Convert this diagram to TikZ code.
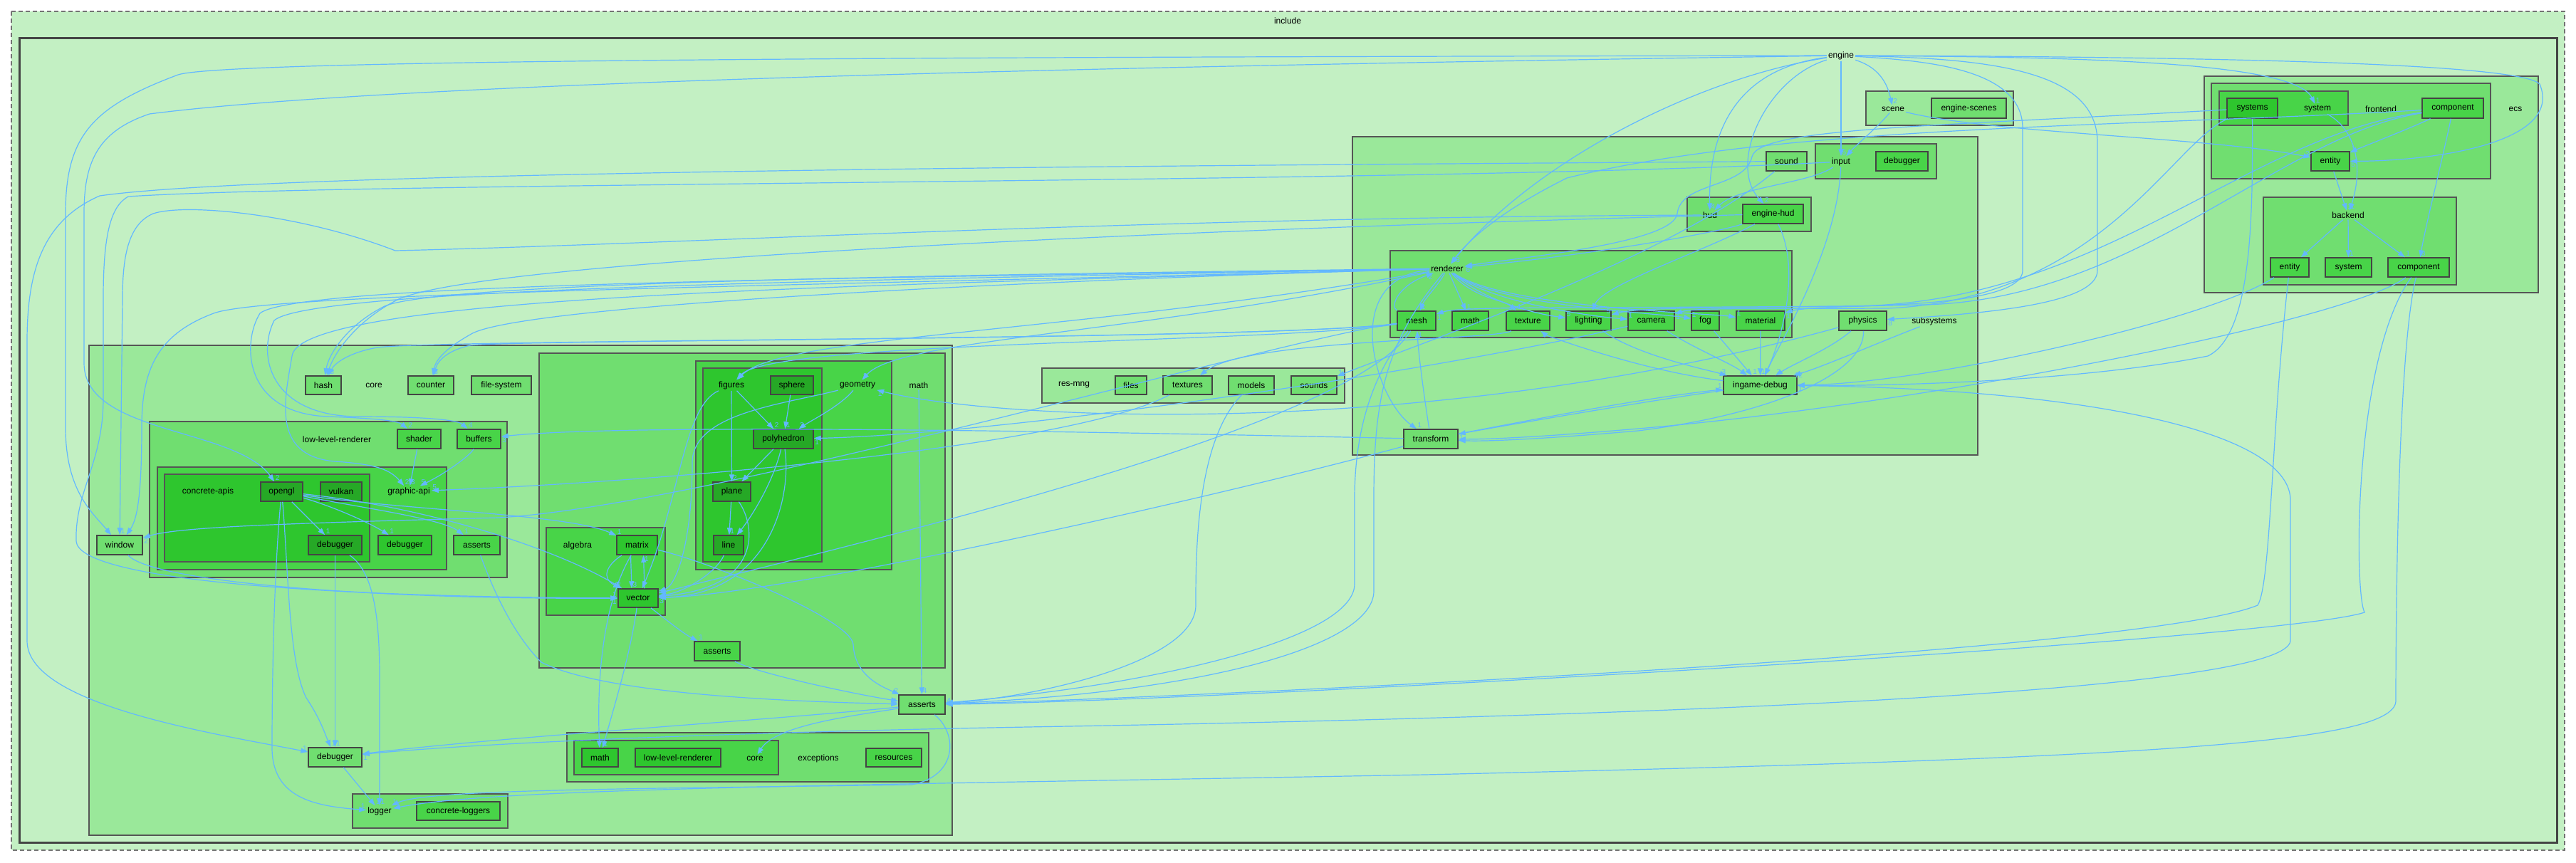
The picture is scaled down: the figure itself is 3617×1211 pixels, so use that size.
\documentclass[tikz,border=0pt]{standalone}
\usepackage{fontspec}
\setmainfont{Liberation Sans}
\usetikzlibrary{arrows.meta}
\definecolor{cA}{HTML}{C3F0C3}
\definecolor{cBB}{HTML}{9AE89A}
\definecolor{cC}{HTML}{70DE70}
\definecolor{cD}{HTML}{48D448}
\definecolor{cEE}{HTML}{2EC62E}
\definecolor{cF}{HTML}{26A826}
\definecolor{cLine}{HTML}{444444}
\definecolor{cClus}{HTML}{555555}
\definecolor{cEdge}{HTML}{63B8FF}
\newcommand\dxf{\fontsize{12pt}{14pt}\selectfont}
\newcommand\dxl{\fontsize{10pt}{12pt}\selectfont}
\newcommand\dbox[7]{\node[bx,fill=#2,minimum width={(#4-#3)*1pt},minimum height={(#6-#5)*1pt}] (#1) at ({(#3+#4)/2},{(#5+#6)/2}) {#7};}
\newcommand\dclus[5]{\draw[clus,fill=#1] (#2,#3) rectangle (#4,#5);}
\begin{document}
\begin{tikzpicture}[x=1pt,y=-1pt,
  clus/.style={draw=cClus,line width=1.3pt},
  bx/.style={draw=cLine,line width=1.5pt,inner sep=0pt,font=\dxf},
  lab/.style={inner sep=2pt,font=\dxf},
  ed/.style={draw=cEdge,line width=1.2pt,-{Triangle[length=10pt,width=7pt]}},
  lb/.style={text=cEdge,font=\dxl,inner sep=1pt,pos=1,anchor=south west}]
\useasboundingbox[fill=white] (0,0) rectangle (3617,1211);
% ---------- clusters
\draw[draw=gray!90!black,line width=1.5pt,dash pattern=on 6pt off 4pt,fill=cA] (16,16) rectangle (3601,1194);
\draw[draw=cLine,line width=3pt,fill=cA] (27,53) rectangle (3590,1183);
\dclus{cBB}{2620}{128}{2827}{176}
\dclus{cBB}{1899}{192}{2777}{639}
\dclus{cC}{2549}{202}{2719}{251}
\dclus{cC}{2369}{277}{2543}{325}
\dclus{cC}{1952}{352}{2516}{474}
\dclus{cBB}{1463}{517}{1888}{566}
\dclus{cBB}{3095}{107}{3564}{411}
\dclus{cC}{3105}{117}{3497}{251}
\dclus{cD}{3116}{128}{3297}{176}
\dclus{cC}{3178}{277}{3449}{400}
\dclus{cBB}{125}{485}{1337}{1173}
\dclus{cC}{210}{592}{712}{811}
\dclus{cD}{221}{656}{627}{800}
\dclus{cEE}{231}{666}{519}{789}
\dclus{cC}{495}{1115}{713}{1163}
\dclus{cC}{757}{496}{1327}{938}
\dclus{cD}{977}{507}{1252}{800}
\dclus{cEE}{987}{517}{1154}{789}
\dclus{cD}{767}{741}{934}{864}
\dclus{cC}{796}{1029}{1304}{1098}
\dclus{cD}{806}{1040}{1093}{1088}
% ---------- cluster labels
\node[lab] (include) at (1808,29) {include};
\node[lab] (engine) at (2585,78) {engine};
\node[lab] (scene) at (2658,153) {scene};
\node[lab] (subsystems) at (2716,451) {subsystems};
\node[lab] (input) at (2585,227) {input};
\node[lab] (hud) at (2401,302) {hud};
\node[lab] (renderer) at (2032,377) {renderer};
\node[lab] (resmng) at (1508,541) {res-mng};
\node[lab] (ecs) at (3532,153) {ecs};
\node[lab] (frontend) at (3343,153) {frontend};
\node[lab] (system) at (3254,153) {system};
\node[lab] (backend) at (3297,302) {backend};
\node[lab] (core) at (525,541) {core};
\node[lab] (llr) at (473,617) {low-level-renderer};
\node[lab] (graphicapi) at (574,690) {graphic-api};
\node[lab] (capis) at (292,690) {concrete-apis};
\node[lab] (logger) at (533,1139) {logger};
\node[lab] (math) at (1290,541) {math};
\node[lab] (geometry) at (1204,541) {geometry};
\node[lab] (figures) at (1027,541) {figures};
\node[lab] (algebra) at (811,766) {algebra};
\node[lab] (exceptions) at (1149,1065) {exceptions};
\node[lab] (ecore) at (1060,1065) {core};
% ---------- nodes
\dbox{escenes}{cC}{2712}{2817}{138}{166}{engine-scenes}
\dbox{sound}{cC}{2480}{2537}{213}{240}{sound}
\dbox{idebug}{cD}{2634}{2707}{213}{240}{debugger}
\dbox{ehud}{cD}{2447}{2532}{287}{314}{engine-hud}
\dbox{mesh}{cD}{1962}{2016}{437}{464}{mesh}
\dbox{rmath}{cD}{2039}{2090}{437}{464}{math}
\dbox{texture}{cD}{2115}{2176}{437}{464}{texture}
\dbox{lighting}{cD}{2199}{2262}{437}{464}{lighting}
\dbox{camera}{cD}{2286}{2351}{437}{464}{camera}
\dbox{fog}{cD}{2375}{2414}{437}{464}{fog}
\dbox{material}{cD}{2438}{2506}{437}{464}{material}
\dbox{physics}{cC}{2582}{2649}{437}{464}{physics}
\dbox{transform}{cC}{1971}{2047}{603}{630}{transform}
\dbox{ingame}{cC}{2420}{2523}{528}{554}{ingame-debug}
\dbox{files}{cC}{1566}{1610}{528}{554}{files}
\dbox{textures}{cC}{1633}{1702}{528}{554}{textures}
\dbox{models}{cC}{1725}{1789}{528}{554}{models}
\dbox{sounds}{cC}{1813}{1877}{528}{554}{sounds}
\dbox{systems}{cEE}{3127}{3198}{138}{166}{systems}
\dbox{fcomp}{cD}{3401}{3487}{138}{166}{component}
\dbox{fentity}{cD}{3245}{3299}{213}{240}{entity}
\dbox{bentity}{cD}{3188}{3242}{362}{389}{entity}
\dbox{bsystem}{cD}{3265}{3330}{362}{389}{system}
\dbox{bcomp}{cD}{3353}{3439}{362}{389}{component}
\dbox{hash}{cC}{429}{479}{528}{554}{hash}
\dbox{counter}{cC}{573}{637}{528}{554}{counter}
\dbox{fsys}{cC}{662}{746}{528}{554}{file-system}
\dbox{shader}{cD}{558}{619}{603}{630}{shader}
\dbox{buffers}{cD}{642}{703}{603}{630}{buffers}
\dbox{opengl}{cF}{366}{425}{677}{704}{opengl}
\dbox{vulkan}{cF}{450}{508}{677}{704}{vulkan}
\dbox{gldebug}{cF}{433}{508}{752}{779}{debugger}
\dbox{gadebug}{cEE}{531}{606}{752}{779}{debugger}
\dbox{llrasserts}{cD}{637}{702}{752}{779}{asserts}
\dbox{window}{cC}{136}{200}{752}{779}{window}
\dbox{cdebug}{cC}{433}{508}{1050}{1077}{debugger}
\dbox{cloggers}{cD}{585}{702}{1126}{1152}{concrete-loggers}
\dbox{sphere}{cF}{1082}{1142}{528}{554}{sphere}
\dbox{polyhedron}{cF}{1058}{1142}{603}{630}{polyhedron}
\dbox{plane}{cF}{1001}{1054}{677}{704}{plane}
\dbox{nline}{cF}{1002}{1044}{752}{779}{line}
\dbox{matrix}{cEE}{866}{923}{752}{779}{matrix}
\dbox{vector}{cEE}{868}{924}{827}{853}{vector}
\dbox{masserts}{cD}{975}{1039}{901}{928}{asserts}
\dbox{casserts}{cC}{1262}{1327}{976}{1003}{asserts}
\dbox{emath}{cEE}{817}{868}{1051}{1077}{math}
\dbox{ellr}{cEE}{892}{1012}{1051}{1077}{low-level-renderer}
\dbox{resources}{cD}{1216}{1294}{1051}{1077}{resources}
% ---------- edges: engine
\draw[ed] (engine) .. controls (2630,92) and (2648,108) .. (scene) node[lb]{2};
\draw[ed] (engine) -- (input) node[lb]{5};
\draw[ed] (engine) .. controls (2450,95) and (2398,170) .. (hud) node[lb]{4};
\draw[ed] (engine) .. controls (2480,110) and (2425,230) .. (ehud) node[lb]{2};
\draw[ed] (engine) .. controls (2380,110) and (2150,230) .. (renderer) node[lb]{33};
\draw[ed] (engine) .. controls (2900,80) and (3220,85) .. (system) node[lb]{1};
\draw[ed] (engine) .. controls (3200,80) and (3540,92) .. (3566,118) .. controls (3600,200) and (3420,226) .. (fentity) node[lb,anchor=north west]{5};
\draw[ed] (engine) .. controls (2700,85) and (2840,95) .. (2840,180) -- (2840,380) .. controls (2840,420) and (2700,428) .. (2600,430) .. controls (2400,432) and (2300,432) .. (lighting) node[lb,anchor=south east]{5};
\draw[ed] (engine) .. controls (2800,82) and (2945,100) .. (2945,200) -- (2945,380) .. controls (2945,425) and (2800,440) .. (physics) node[lb,anchor=north west]{8};
\draw[ed] (engine) .. controls (1500,80) and (320,82) .. (250,105) .. controls (130,150) and (92,190) .. (92,300) -- (92,600) .. controls (92,690) and (130,720) .. (window) node[lb,anchor=south east]{5};
\draw[ed] (engine) .. controls (1800,90) and (600,110) .. (210,160) .. controls (135,185) and (118,230) .. (118,300) -- (118,510) .. controls (118,610) and (330,600) .. (opengl) node[lb]{2};
\draw[ed] (sound) .. controls (1800,232) and (400,238) .. (140,275) .. controls (60,310) and (38,380) .. (38,480) -- (38,900) .. controls (38,990) and (300,1030) .. (cdebug) node[lb,anchor=south east]{1};
\draw[ed] (input) .. controls (2000,258) and (500,255) .. (180,276) .. controls (155,290) and (145,330) .. (145,420) -- (145,560) .. controls (145,650) and (105,690) .. (107,760) .. controls (110,810) and (400,838) .. (vector) node[lb,anchor=north east]{1};
\draw[ed] (hud) .. controls (1600,305) and (980,342) .. (555,352) .. controls (420,300) and (260,285) .. (215,300) .. controls (180,315) and (172,360) .. (172,420) -- (window) node[lb]{1};
\draw[ed] (renderer) .. controls (1200,400) and (380,410) .. (300,440) .. controls (220,470) and (199,520) .. (199,600) .. controls (199,700) and (192,730) .. (window) node[lb]{1};
\draw[ed] (mesh) .. controls (1800,475) and (1000,710) .. (700,727) .. controls (400,735) and (250,740) .. (window) node[lb,anchor=north west]{2};
% core top
\draw[ed] (renderer) .. controls (1400,385) and (620,395) .. (540,430) .. controls (490,455) and (462,495) .. (hash) node[lb]{13};
\draw[ed] (mesh) .. controls (1800,478) and (620,476) .. (530,488) .. controls (490,495) and (470,510) .. (hash);
\draw[ed] (ehud) .. controls (1800,318) and (700,360) .. (560,420) .. controls (500,450) and (470,495) .. (hash);
\draw[ed] (renderer) .. controls (1400,395) and (720,430) .. (660,470) .. controls (625,490) and (612,505) .. (counter) node[lb]{3};
\draw[ed] (mesh) .. controls (1800,477) and (720,477) .. (660,485) .. controls (630,492) and (615,505) .. (counter);
\draw[ed] (renderer) .. controls (1300,390) and (420,395) .. (365,440) .. controls (340,480) and (340,580) .. (460,585) .. controls (540,588) and (560,592) .. (shader) node[lb]{2};
\draw[ed] (renderer) .. controls (1300,392) and (440,402) .. (385,450) .. controls (360,500) and (380,583) .. (500,585) .. controls (620,585) and (645,592) .. (buffers) node[lb]{4};
\draw[ed] (renderer) .. controls (1300,400) and (420,410) .. (410,500) .. controls (400,560) and (380,640) .. (470,648) .. controls (530,652) and (548,660) .. (graphicapi) node[lb]{2};
\draw[ed] (shader) -- (graphicapi) node[lb]{3};
\draw[ed] (buffers) .. controls (660,640) and (625,665) .. (graphicapi) node[lb]{5};
\draw[ed] (textures) .. controls (1500,630) and (900,678) .. (graphicapi) node[lb]{5};
\draw[ed] (transform) .. controls (1700,610) and (900,592) .. (buffers) node[lb,anchor=north west]{3};
% opengl
\draw[ed] (opengl) -- (gldebug) node[lb]{1};
\draw[ed] (opengl) .. controls (470,712) and (520,735) .. (gadebug) node[lb]{1};
\draw[ed] (opengl) .. controls (500,712) and (620,728) .. (llrasserts) node[lb]{1};
\draw[ed] (opengl) .. controls (560,716) and (800,722) .. (matrix) node[lb]{1};
\draw[ed] (opengl) .. controls (600,712) and (780,770) .. (vector) node[lb,anchor=south east]{2};
\draw[ed] (opengl) .. controls (405,800) and (405,930) .. (430,980) .. controls (450,1010) and (456,1030) .. (cdebug) node[lb]{1};
\draw[ed] (opengl) .. controls (385,800) and (382,950) .. (382,1050) .. controls (382,1120) and (440,1132) .. (logger) node[lb,anchor=south east]{1};
\draw[ed] (gldebug) -- (cdebug) node[lb]{1};
\draw[ed] (gldebug) .. controls (520,800) and (533,850) .. (533,950) -- (logger) node[lb]{1};
\draw[ed] (cdebug) -- (logger) node[lb]{1};
\draw[ed] (window) .. controls (210,815) and (500,842) .. (vector) node[lb,anchor=south east]{1};
\draw[ed] (llrasserts) .. controls (700,850) and (730,900) .. (760,930) .. controls (850,975) and (1100,985) .. (casserts) node[lb,anchor=south east]{1};
% math
\draw[ed] (figures) -- (polyhedron) node[lb]{2};
\draw[ed] (sphere) -- (polyhedron) node[lb]{1};
\draw[ed] (geometry) .. controls (1180,570) and (1140,590) .. (polyhedron) node[lb]{3};
\draw[ed] (figures) -- (plane) node[lb]{2};
\draw[ed] (polyhedron) -- (plane) node[lb]{1};
\draw[ed] (polyhedron) .. controls (1085,680) and (1052,730) .. (nline) node[lb]{1};
\draw[ed] (plane) -- (nline) node[lb]{1};
\draw[ed] (nline) .. controls (1005,805) and (960,832) .. (vector);
\draw[ed] (plane) .. controls (1062,740) and (1070,825) .. (vector);
\draw[ed] (polyhedron) .. controls (1112,700) and (1080,835) .. (vector);
\draw[ed] (figures) .. controls (960,570) and (955,700) .. (vector);
\draw[ed] (geometry) .. controls (1100,568) and (972,580) .. (972,650) .. controls (972,760) and (950,822) .. (vector);
\draw[ed] ([xshift=-9pt]matrix.south) -- ([xshift=-9pt]vector.north) node[lb]{3};
\draw[ed] ([xshift=9pt]vector.north) -- ([xshift=9pt]matrix.south) node[lb,anchor=north west]{1};
\draw[ed] (matrix) .. controls (850,795) and (845,812) .. (vector) node[lb,anchor=south east]{2};
\draw[ed] (vector) .. controls (935,870) and (960,890) .. (masserts) node[lb]{1};
\draw[ed] (vector) .. controls (885,920) and (860,1000) .. (emath) node[lb]{1};
\draw[ed] (matrix) .. controls (845,850) and (838,960) .. (emath);
\draw[ed] (matrix) .. controls (1000,790) and (1195,870) .. (1198,905) .. controls (1200,950) and (1240,965) .. (casserts) node[lb,anchor=south east]{2};
\draw[ed] (masserts) .. controls (1060,945) and (1200,975) .. (casserts);
\draw[ed] (math) -- (casserts) node[lb]{4};
\draw[ed] (casserts) .. controls (1200,1005) and (1090,1018) .. (ecore) node[lb]{1};
\draw[ed] (casserts) .. controls (1100,1010) and (700,1035) .. (cdebug) node[lb,anchor=north west]{1};
\draw[ed] (casserts) .. controls (1345,1030) and (1345,1090) .. (1280,1102) .. controls (900,1108) and (600,1108) .. (logger) node[lb]{1};
% into math from the right
\draw[ed] (renderer) .. controls (1500,470) and (1100,470) .. (figures) node[lb]{1};
\draw[ed] (mesh) .. controls (1800,482) and (1085,478) .. (figures);
\draw[ed] (renderer) .. controls (1600,470) and (1262,475) .. (geometry) node[lb]{3};
\draw[ed] (physics) .. controls (2000,620) and (1400,590) .. (geometry) node[lb,anchor=north west]{1};
\draw[ed] (camera) .. controls (2000,525) and (1400,610) .. (polyhedron) node[lb,anchor=north west]{1};
\draw[ed] (transform) .. controls (1700,700) and (1100,835) .. (vector) node[lb,anchor=north west]{3};
\draw[ed] (mesh) .. controls (1900,600) and (1200,765) .. (vector);
% into core asserts etc from the right
\draw[ed] (mesh) .. controls (1930,520) and (1902,600) .. (1902,700) -- (1902,820) .. controls (1902,900) and (1600,965) .. (casserts);
\draw[ed] (renderer) .. controls (1945,480) and (1929,560) .. (1929,700) -- (1929,830) .. controls (1929,905) and (1700,972) .. (casserts);
\draw[ed] (models) .. controls (1679,620) and (1679,780) .. (1679,850) .. controls (1679,930) and (1450,980) .. (casserts);
\draw[ed] (bentity) .. controls (3189,600) and (3189,820) .. (3170,850) .. controls (3000,920) and (1600,982) .. (casserts) node[lb]{4};
\draw[ed] (bcomp) .. controls (3305,500) and (3305,830) .. (3320,860) .. controls (3200,900) and (1700,985) .. (casserts);
\draw[ed] (ingame) .. controls (2900,545) and (3210,600) .. (3216,700) -- (3216,900) .. controls (3210,960) and (2600,1000) .. (1500,1020) .. controls (900,1030) and (600,1050) .. (cdebug);
\draw[ed] (bcomp) .. controls (3364,500) and (3364,950) .. (3364,985) .. controls (3360,1045) and (3000,1065) .. (2000,1088) .. controls (1200,1103) and (700,1106) .. (logger);
% subsystems
\draw[ed] (texture) .. controls (2100,478) and (1750,476) .. (textures) node[lb]{3};
\draw[ed] (sound) .. controls (2350,360) and (2000,480) .. (sounds) node[lb]{1};
\draw[ed] (transform) .. controls (2000,560) and (1992,500) .. (mesh) node[lb,anchor=north west]{1};
\draw[ed] (renderer) .. controls (1880,390) and (1930,560) .. (transform) node[lb]{1};
\draw[ed] (mesh) .. controls (1950,430) and (1965,400) .. (renderer) node[lb,anchor=north east]{2};
\draw[ed] (renderer) .. controls (2020,400) and (2000,420) .. (mesh) node[lb]{1};
\draw[ed] (renderer) -- (rmath) node[lb]{1};
\draw[ed] (renderer) .. controls (2070,420) and (2110,420) .. (texture) node[lb]{1};
\draw[ed] (renderer) .. controls (2080,420) and (2150,440) .. (lighting) node[lb]{5};
\draw[ed] (renderer) .. controls (2090,425) and (2240,445) .. (camera) node[lb]{1};
\draw[ed] (renderer) .. controls (2100,430) and (2330,440) .. (fog) node[lb]{1};
\draw[ed] (renderer) .. controls (2110,432) and (2400,440) .. (material) node[lb]{1};
\draw[ed] (lighting) .. controls (2300,500) and (2400,520) .. (ingame) node[lb,anchor=south east]{3};
\draw[ed] (camera) .. controls (2380,490) and (2430,510) .. (ingame) node[lb,anchor=south east]{1};
\draw[ed] (fog) -- (ingame) node[lb]{1};
\draw[ed] (material) -- (ingame) node[lb]{1};
\draw[ed] (physics) .. controls (2570,490) and (2520,510) .. (ingame) node[lb]{2};
\draw[ed] (subsystems) .. controls (2640,480) and (2560,515) .. (ingame) node[lb,anchor=west]{12};
\draw[ed] (ingame) .. controls (2300,520) and (2170,470) .. (texture) node[lb,anchor=north west]{1};
\draw[ed] (input) .. controls (2580,350) and (2500,480) .. (ingame);
\draw[ed] (ehud) .. controls (2530,380) and (2500,480) .. (ingame);
\draw[ed] (ingame) .. controls (2300,565) and (2100,600) .. (transform) node[lb,anchor=north west]{1};
\draw[ed] (transform) .. controls (2150,590) and (2300,560) .. (ingame) node[lb,anchor=south east]{1};
\draw[ed] (physics) .. controls (2620,520) and (2500,580) .. (2300,605) .. controls (2150,618) and (2080,620) .. (transform);
\draw[ed] (bcomp) .. controls (3300,450) and (2700,568) .. (2300,602) .. controls (2150,615) and (2080,617) .. (transform);
\draw[ed] (bentity) .. controls (3100,450) and (2700,540) .. (ingame) node[lb,anchor=north west]{1};
\draw[ed] (systems) .. controls (3163,300) and (3163,470) .. (3100,500) .. controls (2900,540) and (2600,542) .. (ingame);
% scene, input, hud
\draw[ed] (scene) .. controls (2635,180) and (2610,200) .. (input) node[lb]{1};
\draw[ed] (scene) .. controls (2800,188) and (3100,192) .. (fentity) node[lb,anchor=south east]{2};
\draw[ed] (input) .. controls (2540,258) and (2440,262) .. (hud) node[lb,anchor=north west]{1};
\draw[ed] (systems) .. controls (2700,178) and (2470,180) .. (2460,220) .. controls (2450,265) and (2360,255) .. (2355,300) .. controls (2350,340) and (2150,360) .. (renderer) node[lb,anchor=north west]{6};
\draw[ed] (ehud) .. controls (2400,330) and (2200,362) .. (renderer);
\draw[ed] (ehud) .. controls (2400,350) and (2250,400) .. (lighting);
% ecs
\draw[ed] (fcomp) .. controls (3380,182) and (3320,205) .. (fentity) node[lb]{1};
\draw[ed] (fcomp) .. controls (3435,200) and (3405,320) .. (bcomp) node[lb]{8};
\draw[ed] (fentity) -- (backend) node[lb]{1};
\draw[ed] (system) .. controls (3305,180) and (3320,230) .. (backend) node[lb]{1};
\draw[ed] (backend) -- (bentity) node[lb]{1};
\draw[ed] (backend) -- (bsystem) node[lb]{1};
\draw[ed] (backend) -- (bcomp) node[lb]{1};
\draw[ed] (fcomp) .. controls (3200,190) and (3000,422) .. (2700,428) .. controls (2600,430) and (2530,432) .. (material) node[lb,anchor=north west]{1};
\draw[ed] (fcomp) .. controls (3150,192) and (2950,426) .. (2600,430) .. controls (2200,433) and (2050,430) .. (mesh) node[lb,anchor=north west]{1};
\draw[ed] (systems) .. controls (3050,200) and (2950,420) .. (2650,433) .. controls (2450,434) and (2380,432) .. (camera) node[lb,anchor=north west]{1};
\draw[ed] (fcomp) .. controls (3000,178) and (2500,175) .. (2200,250) .. controls (2100,300) and (2060,340) .. (renderer);
\end{tikzpicture}
\end{document}
